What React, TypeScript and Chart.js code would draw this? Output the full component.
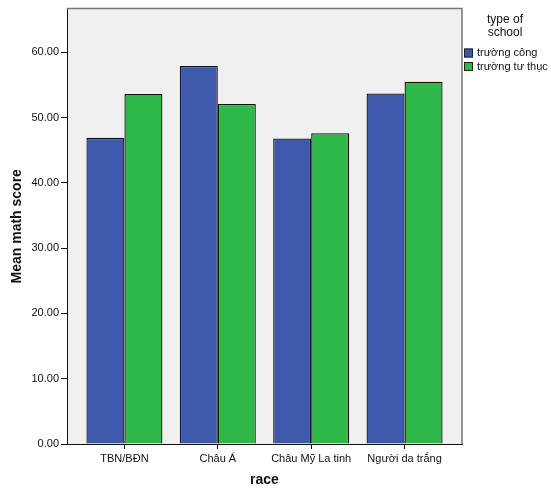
import React, { useEffect, useRef } from 'react';
import { Chart, registerables } from 'chart.js';

Chart.register(...registerables);

// data
const races = ['TBN/BĐN', 'Châu Á', 'Châu Mỹ La tinh', 'Người da trắng'];
const publicScores = [46.9, 57.9, 46.8, 53.7];
const privateScores = [53.6, 52.1, 47.6, 55.5];
const seriesNames = ['trường công', 'trường tư thục'];
const legendTitle = ['type of', 'school'];
const yTicks = [0, 10, 20, 30, 40, 50, 60];

const FONT = '"Liberation Sans", Arial, sans-serif';

// plot background, top/right frame and the SPSS-style legend
const spssFrame = {
  id: 'spssFrame',
  beforeDraw(chart: any) {
    const { ctx, chartArea: a } = chart;
    ctx.save();
    ctx.fillStyle = '#f0f0f0';
    ctx.fillRect(a.left, a.top, a.right - a.left, a.bottom - a.top);
    ctx.restore();
  },
  afterDraw(chart: any) {
    const { ctx, chartArea: a } = chart;
    ctx.save();
    ctx.strokeStyle = '#777777';
    ctx.lineWidth = 1.5;
    ctx.beginPath();
    ctx.moveTo(a.left, a.top);
    ctx.lineTo(a.right, a.top);
    ctx.lineTo(a.right, a.bottom);
    ctx.stroke();

    // legend
    const cx = a.right + 43;
    ctx.fillStyle = '#111';
    ctx.font = `12px ${FONT}`;
    ctx.textAlign = 'center';
    ctx.textBaseline = 'middle';
    legendTitle.forEach((t, i) => ctx.fillText(t, cx, 20 + i * 13));

    ctx.font = `11px ${FONT}`;
    ctx.textAlign = 'left';
    chart.data.datasets.forEach((ds: any, i: number) => {
      const y = 53 + i * 13.5;
      ctx.fillStyle = ds.backgroundColor;
      ctx.fillRect(a.right + 2, y - 4.5, 9, 9);
      ctx.strokeStyle = '#222';
      ctx.lineWidth = 1;
      ctx.strokeRect(a.right + 2.5, y - 4, 8, 8);
      ctx.fillStyle = '#111';
      ctx.fillText(ds.label, a.right + 15, y);
    });
    ctx.restore();
  },
};

const BarChart: React.FC = () => {
  const canvasRef = useRef<HTMLCanvasElement>(null);

  useEffect(() => {
    document.body.style.margin = '0';
    if (!canvasRef.current) return;

    const chart = new Chart(canvasRef.current, {
      type: 'bar',
      data: {
        datasets: [
          {
            label: seriesNames[0],
            data: publicScores.map((v, i) => ({ x: i, y: v })),
            backgroundColor: '#3e58ac',
            borderColor: '#111111',
            borderWidth: 1.3,
          },
          {
            label: seriesNames[1],
            data: privateScores.map((v, i) => ({ x: i, y: v })),
            backgroundColor: '#2eb848',
            borderColor: '#111111',
            borderWidth: 1.3,
          },
        ],
      },
      options: {
        animation: false,
        responsive: true,
        maintainAspectRatio: false,
        categoryPercentage: 0.814,
        barPercentage: 1,
        layout: { padding: { top: 7, right: 89, left: 0, bottom: 0 } },
        plugins: {
          legend: { display: false },
          tooltip: { enabled: false },
        },
        scales: {
          x: {
            type: 'linear',
            offset: false,
            min: -0.615,
            max: 3.615,
            afterBuildTicks: (scale: any) => {
              scale.ticks = races.map((_, i) => ({ value: i }));
            },
            afterFit: (scale: any) => {
              scale.height = 49;
            },
            ticks: {
              callback: (v: any) => races[v] ?? '',
              color: '#111',
              font: { family: FONT, size: 11 },
              padding: 3,
              maxRotation: 0,
              autoSkip: false,
            },
            grid: { offset: false, drawOnChartArea: false, color: '#111', tickLength: 5 },
            border: { color: '#111', width: 1 },
            title: {
              display: true,
              text: 'race',
              color: '#111',
              font: { family: FONT, size: 14, weight: 'bold' },
              padding: { bottom: 4 },
            },
          },
          y: {
            min: 0,
            max: 66.7,
            afterBuildTicks: (scale: any) => {
              scale.ticks = yTicks.map((v) => ({ value: v }));
            },
            afterFit: (scale: any) => {
              scale.width = 67;
            },
            ticks: {
              callback: (v: any) => Number(v).toFixed(2),
              color: '#111',
              font: { family: FONT, size: 11 },
              padding: 2,
            },
            grid: { drawOnChartArea: false, color: '#111', tickLength: 6 },
            border: { color: '#111', width: 1 },
            title: {
              display: true,
              text: 'Mean math score',
              color: '#111',
              font: { family: FONT, size: 14, weight: 'bold' },
              padding: { top: 9 },
            },
          },
        },
      },
      plugins: [spssFrame],
    } as any);

    return () => {
      chart.destroy();
    };
  }, []);

  return (
    <div style={{ position: 'relative', width: 551, height: 493 }}>
      <canvas ref={canvasRef} />
    </div>
  );
};

export default function App() {
  return <BarChart />;
}
